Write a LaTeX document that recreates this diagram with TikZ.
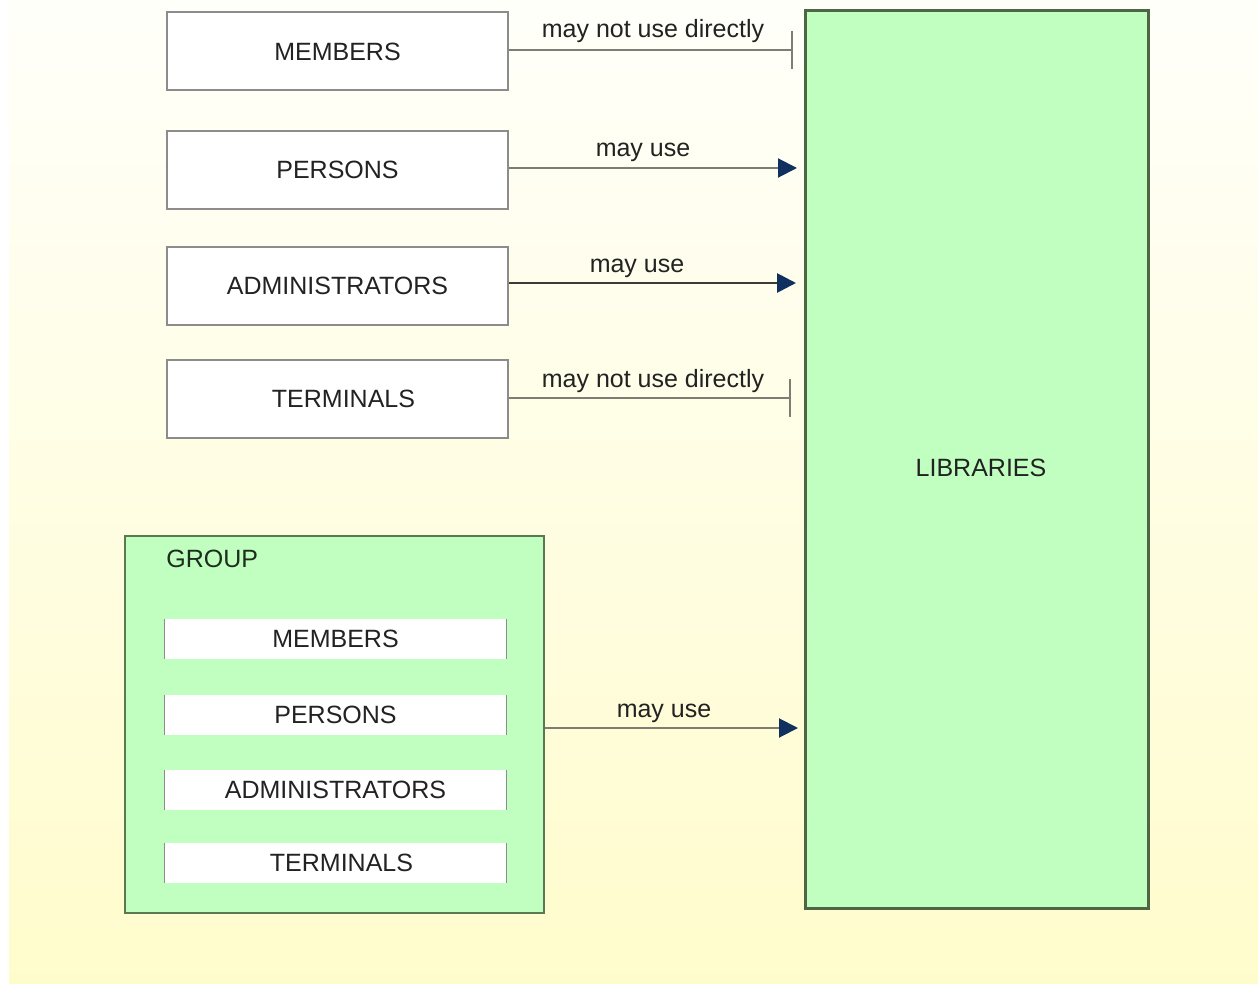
\documentclass[tikz,border=0pt]{standalone}
\usepackage{fontspec}
\setmainfont{Liberation Sans}
\usetikzlibrary{arrows.meta}
\definecolor{txt}{RGB}{34,34,34}
\definecolor{boxline}{RGB}{140,140,140}
\definecolor{libgreen}{RGB}{192,255,192}
\definecolor{libline}{RGB}{78,102,68}
\definecolor{grpline}{RGB}{92,120,80}
\definecolor{conn}{RGB}{125,125,115}
\definecolor{connd}{RGB}{60,60,55}
\definecolor{tipblue}{RGB}{16,48,96}
\definecolor{bgtop}{RGB}{255,255,250}
\definecolor{bgbot}{RGB}{255,252,204}
\tikzset{
  every node/.style={font=\fontsize{12.5}{15}\selectfont, text=txt},
  entbox/.style={draw=boxline, line width=1pt, fill=white, minimum width=170.5pt, minimum height=39pt, inner sep=0pt},
  libbox/.style={draw=libline, line width=1.5pt, fill=libgreen, minimum width=171.5pt, minimum height=448.5pt, inner sep=0pt},
  grpbox/.style={draw=grpline, line width=1.2pt, fill=libgreen, minimum width=209.5pt, minimum height=188.5pt, inner sep=0pt},
  strip/.style={fill=white, minimum width=170.5pt, minimum height=20pt, inner sep=0pt},
  stripedge/.style={draw=boxline, line width=0.6pt},
  conline/.style={draw=conn, line width=1pt},
  condark/.style={draw=connd, line width=1.4pt},
  usetip/.style={-{Triangle[length=9.5pt,width=9.5pt,color=tipblue]}},
  bartip/.style={-{Bar[width=19pt]}},
  lbl/.style={anchor=base, inner sep=0pt}
}
\begin{document}
\begin{tikzpicture}[x=0.5pt,y=-0.5pt]
\useasboundingbox (0,0) rectangle (1258,984);
\fill[white] (0,0) rectangle (1258,984);
\shade[top color=bgtop, bottom color=bgbot] (9,0) rectangle (1258,984);

% standalone boxes
\node[entbox] (members) at (337.5,51.5) {MEMBERS};
\node[entbox] (persons) at (337.5,170) {PERSONS};
\node[entbox] (admins) at (337.5,286) {ADMINISTRATORS};
\node[entbox] (terms) at (337.5,399) {\hspace*{6pt}TERMINALS};

% libraries
\node[libbox] (lib) at (976.5,459.5) {};
\node[inner sep=0pt] (liblbl) at (981,468) {LIBRARIES};

% group
\node[grpbox] (group) at (334.5,724.5) {};
\node[anchor=base west, inner sep=0pt, text={rgb,255:red,30;green,45;blue,30}] (grouplbl) at (166,567) {GROUP};
\node[strip] (gmembers) at (335.5,639) {MEMBERS};
\node[strip] (gpersons) at (335.5,715) {PERSONS};
\node[strip] (gadmins) at (335.5,790) {ADMINISTRATORS};
\node[strip] (gterms) at (335.5,863) {\hspace*{6pt}TERMINALS};
\foreach \s in {gmembers,gpersons,gadmins,gterms}{
  \draw[stripedge] (\s.north west) -- (\s.south west);
  \draw[stripedge] (\s.north east) -- (\s.south east);
}

% connector end points
\coordinate (e1) at (793,50);
\coordinate (e2) at (797,168);
\coordinate (e3) at (796,283);
\coordinate (e4) at (791,398);
\coordinate (e5) at (798,728);

\draw[conline,bartip] (members.east |- e1) -- (e1);
\draw[conline,usetip] (persons.east |- e2) -- (e2);
\draw[condark,usetip] (admins.east |- e3) -- (e3);
\draw[conline,bartip] (terms.east |- e4) -- (e4);
\draw[conline,usetip] (group.east |- e5) -- (e5);

% labels
\node[lbl] (l1) at (653,38) {may not use directly};
\node[lbl] (l2) at (643,157) {may use};
\node[lbl] (l3) at (637,272) {may use};
\node[lbl] (l4) at (653,387) {may not use directly};
\node[lbl] (l5) at (664,717) {may use};
\end{tikzpicture}
\end{document}
